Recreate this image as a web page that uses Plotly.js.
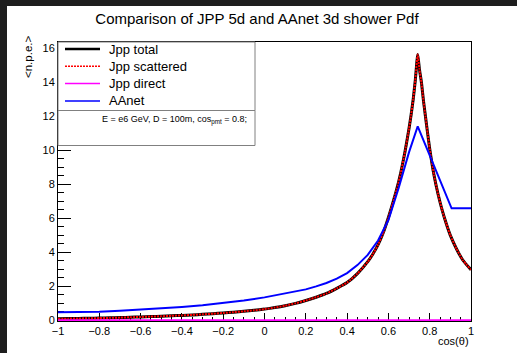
<!DOCTYPE html>
<html>
<head>
<meta charset="utf-8">
<script src="https://cdn.plot.ly/plotly-3.0.1.min.js"></script>
<style>
  html, body { margin: 0; padding: 0; background: #1e1e1e; overflow: hidden; }
  #chart { position: absolute; left: 7px; top: 6px; width: 510px; height: 347px; background: #ffffff; }
</style>
</head>
<body>
<div id="chart"></div>
<script>
// cos(theta) sampling of the Jpp shower pdf
const jppCos = [-1, -0.95, -0.9, -0.85, -0.8, -0.75, -0.7, -0.65, -0.6, -0.55, -0.5, -0.45, -0.4, -0.35,
  -0.3, -0.25, -0.2, -0.15, -0.1, -0.05, 0, 0.05, 0.1, 0.15, 0.2, 0.25, 0.3, 0.35, 0.4, 0.45, 0.5, 0.525,
  0.55, 0.575, 0.6, 0.62, 0.64, 0.66, 0.68, 0.7, 0.71, 0.72, 0.73, 0.742, 0.75, 0.76, 0.77, 0.78, 0.79,
  0.8, 0.82, 0.84, 0.86, 0.88, 0.9, 0.93, 0.96, 1.0];
// Jpp total <n.p.e.>
const jppTotal = [0.09, 0.10, 0.11, 0.12, 0.13, 0.145, 0.16, 0.18, 0.20, 0.22, 0.24, 0.265, 0.29, 0.32,
  0.35, 0.39, 0.43, 0.48, 0.53, 0.59, 0.66, 0.75, 0.86, 1.0, 1.17, 1.36, 1.58, 1.88, 2.22, 2.75, 3.45, 3.9,
  4.45, 5.15, 6.05, 6.85, 7.7, 8.7, 9.9, 11.3, 12.1, 13.0, 14.1, 15.64, 14.8, 14.0, 12.9, 11.95, 11.0,
  10.1, 8.6, 7.45, 6.5, 5.7, 5.0, 4.2, 3.55, 2.97];
// Jpp scattered <n.p.e.>
const jppScattered = [0.09, 0.10, 0.11, 0.12, 0.13, 0.145, 0.16, 0.18, 0.20, 0.22, 0.24, 0.265, 0.29, 0.32,
  0.35, 0.39, 0.43, 0.48, 0.53, 0.59, 0.66, 0.75, 0.86, 1.0, 1.17, 1.36, 1.58, 1.88, 2.22, 2.75, 3.45, 3.9,
  4.45, 5.15, 6.05, 6.85, 7.7, 8.7, 9.9, 11.3, 12.1, 13.0, 14.1, 15.64, 14.8, 14.0, 12.9, 11.95, 11.0,
  10.1, 8.6, 7.45, 6.5, 5.7, 5.0, 4.2, 3.55, 2.97];
// Jpp direct <n.p.e.>
const directCos = [-1, -0.5, 0, 0.5, 1];
const jppDirect = [0, 0, 0, 0, 0];
// AAnet 3d pdf
const aanetCos = [-1, -0.8, -0.7, -0.6, -0.5, -0.4, -0.3, -0.2, -0.1, 0, 0.1, 0.2, 0.25, 0.3, 0.35, 0.4,
  0.45, 0.5, 0.55, 0.6, 0.65, 0.7, 0.742, 0.906, 1.0];
const aanet = [0.47, 0.50, 0.56, 0.63, 0.70, 0.79, 0.89, 1.02, 1.17, 1.35, 1.57, 1.82, 2.0, 2.2, 2.45, 2.78,
  3.25, 3.85, 4.7, 5.9, 7.8, 9.9, 11.42, 6.59, 6.59];

const seriesNames = ['Jpp total', 'Jpp scattered', 'Jpp direct', 'AAnet'];
const xTicks = [-1, -0.8, -0.6, -0.4, -0.2, 0, 0.2, 0.4, 0.6, 0.8, 1];
const yTicks = [0, 2, 4, 6, 8, 10, 12, 14, 16];

const FONT = '"Liberation Sans", Arial, Helvetica, sans-serif';
const lineStyles = [
  { color: '#000000', width: 3 },
  { color: '#ff0000', width: 2, dash: '2px,1px' },
  { color: '#ff00ff', width: 2 },
  { color: '#0000ff', width: 2 }
];

const traces = [
  { x: jppCos, y: jppTotal, name: seriesNames[0], line: Object.assign({ shape: 'spline', smoothing: 0.5 }, lineStyles[0]) },
  { x: jppCos, y: jppScattered, name: seriesNames[1], line: Object.assign({ shape: 'spline', smoothing: 0.5 }, lineStyles[1]) },
  { x: directCos, y: jppDirect, name: seriesNames[2], line: lineStyles[2] },
  { x: aanetCos, y: aanet, name: seriesNames[3], line: lineStyles[3] }
].map(t => Object.assign({ type: 'scatter', mode: 'lines', showlegend: false, hoverinfo: 'skip' }, t));

// frame geometry (div pixels)
const M = { l: 51, r: 46, t: 36, b: 32 };
const W = 510, H = 347;
const PW = W - M.l - M.r, PH = H - M.t - M.b;
const px = x => (x - M.l) / PW;
const py = y => (M.t + PH - y) / PH;

const shapes = [];
const annotations = [];

// legend box and info box
shapes.push({ type: 'rect', xref: 'paper', yref: 'paper', x0: px(51), x1: px(248), y0: py(104.5), y1: py(36),
  line: { color: '#808080', width: 1 }, fillcolor: '#ffffff', layer: 'above' });
shapes.push({ type: 'rect', xref: 'paper', yref: 'paper', x0: px(51), x1: px(248), y0: py(139.5), y1: py(104.5),
  line: { color: '#808080', width: 1 }, fillcolor: '#ffffff', layer: 'above' });

// legend entries
seriesNames.forEach((name, i) => {
  const yc = 43 + i * 17.3;
  const st = lineStyles[i];
  shapes.push({ type: 'line', xref: 'paper', yref: 'paper', x0: px(58), x1: px(93), y0: py(yc), y1: py(yc),
    line: { color: st.color, width: i === 0 ? 2.5 : 1.5, dash: st.dash || 'solid' }, layer: 'above' });
  annotations.push({ xref: 'paper', yref: 'paper', x: px(100), y: py(yc), xanchor: 'left', yanchor: 'middle',
    text: name, showarrow: false, font: { family: FONT, size: 13, color: '#000' } });
});

annotations.push({ xref: 'paper', yref: 'paper', x: px(242), y: py(114), xanchor: 'right', yanchor: 'middle',
  text: 'E = e6 GeV, D = 100m, cos<sub>pmt</sub> = 0.8;', showarrow: false,
  font: { family: FONT, size: 9, color: '#000' } });

// axis titles
annotations.push({ xref: 'paper', yref: 'paper', x: px(464), y: py(334.5), xanchor: 'right', yanchor: 'middle',
  text: 'cos(θ)', showarrow: false, font: { family: FONT, size: 11, color: '#000' } });
annotations.push({ xref: 'paper', yref: 'paper', x: px(21), y: py(51), xanchor: 'center', yanchor: 'middle',
  textangle: -90, text: '&lt;n.p.e.&gt;', showarrow: false, font: { family: FONT, size: 11.5, color: '#000' } });

const layout = {
  width: W, height: H,
  margin: M,
  paper_bgcolor: '#ffffff', plot_bgcolor: '#ffffff',
  font: { family: FONT, size: 11, color: '#000' },
  title: { text: 'Comparison of JPP 5d and AAnet 3d shower Pdf', font: { family: FONT, size: 15, color: '#000' },
    xref: 'container', yref: 'container', x: 250 / W, y: 1 - 13 / H, xanchor: 'center', yanchor: 'middle' },
  xaxis: {
    range: [-1, 1], tickmode: 'array', tickvals: xTicks, ticks: 'inside', ticklen: 8, tickwidth: 1, tickcolor: '#000',
    minor: { dtick: 0.05, tick0: -1, ticks: 'inside', ticklen: 4, tickcolor: '#000' },
    showgrid: false, zeroline: false, showline: true, linecolor: '#000', linewidth: 1, mirror: true,
    layer: 'below traces', tickfont: { family: FONT, size: 11, color: '#000' }
  },
  yaxis: {
    range: [-0.04, 16.38], tickmode: 'array', tickvals: yTicks, ticks: 'inside', ticklen: 13, tickwidth: 1, tickcolor: '#000',
    minor: { dtick: 0.5, tick0: 0, ticks: 'inside', ticklen: 6, tickcolor: '#000' },
    showgrid: false, zeroline: false, showline: true, linecolor: '#000', linewidth: 1, mirror: true,
    layer: 'below traces', tickfont: { family: FONT, size: 11, color: '#000' }
  },
  shapes: shapes,
  annotations: annotations,
  showlegend: false
};

Plotly.newPlot('chart', traces, layout, { staticPlot: true, displayModeBar: false });
</script>
</body>
</html>
